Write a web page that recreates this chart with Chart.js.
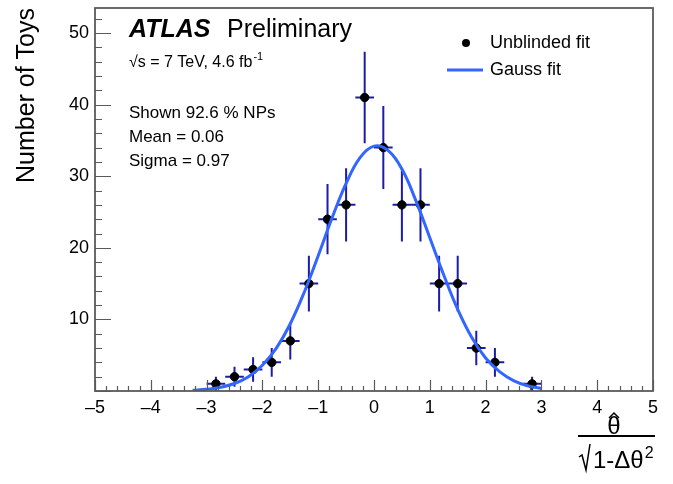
<!DOCTYPE html>
<html>
<head>
<meta charset="utf-8">
<script src="https://cdn.jsdelivr.net/npm/chart.js@4.4.1/dist/chart.umd.min.js"></script>
<style>
  body { margin: 0; background: #fff; }
</style>
</head>
<body>
<canvas id="myChart" width="673" height="484"></canvas>
<script>
// toy results, one bin = 1/3 wide
var binCenters = [-2.833, -2.5, -2.167, -1.833, -1.5, -1.167, -0.833, -0.5, -0.167, 0.167, 0.5, 0.833, 1.167, 1.5, 1.833, 2.167, 2.833];
var toyCounts = [1, 2, 3, 4, 7, 15, 24, 26, 41, 34, 26, 26, 15, 15, 6, 4, 1];
var countErrors = [1, 1.4, 1.7, 2, 2.6, 3.9, 4.9, 5.1, 6.4, 5.8, 5.1, 5.1, 3.9, 3.9, 2.4, 2, 1];
var binHalfWidth = 0.167;

// gauss fit curve
var fitX = [-3.25, -3, -2.75, -2.5, -2.25, -2, -1.75, -1.5, -1.25, -1, -0.75, -0.5, -0.25, 0, 0.25, 0.5, 0.75, 1, 1.25, 1.5, 1.75, 2, 2.25, 2.5, 2.75, 3];
var fitY = [0.1, 0.24, 0.52, 1.05, 2.0, 3.6, 6.0, 9.4, 13.8, 18.9, 24.2, 29.0, 32.6, 34.2, 33.6, 31.0, 26.6, 21.4, 16.2, 11.4, 7.5, 4.6, 2.7, 1.45, 0.73, 0.35];

var xTickLabels = [-5, -4, -3, -2, -1, 0, 1, 2, 3, 4, 5];
var yTickLabels = [10, 20, 30, 40, 50];

var FONT = '"Liberation Sans", Arial, Helvetica, sans-serif';
var errColor = '#1c1ca8';
var fitColor = '#3366ff';
var frameColor = '#5a5a5a';

var points = [];
for (var i = 0; i < binCenters.length; i++) {
  points.push({x: binCenters[i], y: toyCounts[i]});
}
var curve = [];
for (var i = 0; i < fitX.length; i++) {
  curve.push({x: fitX[i], y: fitY[i]});
}

var atlasPlugin = {
  id: 'atlasExtras',
  beforeDatasetsDraw: function(chart) {
    var ctx = chart.ctx;
    var xs = chart.scales.x, ys = chart.scales.y;
    ctx.save();
    ctx.strokeStyle = errColor;
    ctx.lineWidth = 2;
    for (var i = 0; i < binCenters.length; i++) {
      var px = xs.getPixelForValue(binCenters[i]);
      var py = ys.getPixelForValue(toyCounts[i]);
      ctx.beginPath();
      ctx.moveTo(px, ys.getPixelForValue(toyCounts[i] - countErrors[i]));
      ctx.lineTo(px, ys.getPixelForValue(toyCounts[i] + countErrors[i]));
      ctx.moveTo(xs.getPixelForValue(binCenters[i] - binHalfWidth), py);
      ctx.lineTo(xs.getPixelForValue(binCenters[i] + binHalfWidth), py);
      ctx.stroke();
    }
    ctx.restore();
  },
  afterDatasetsDraw: function(chart) {
    var ctx = chart.ctx;
    var a = chart.chartArea;
    var xs = chart.scales.x, ys = chart.scales.y;
    ctx.save();

    // frame
    ctx.strokeStyle = frameColor;
    ctx.lineWidth = 1.8;
    ctx.strokeRect(a.left, a.top, a.right - a.left, a.bottom - a.top);

    // inward ticks
    ctx.lineWidth = 1.2;
    ctx.beginPath();
    for (var i = 0; i <= 50; i++) {
      var v = -5 + i * 0.2;
      var px = Math.round(xs.getPixelForValue(v)) + 0.5;
      var len = (i % 5 === 0) ? 11 : 5;
      ctx.moveTo(px, a.bottom);
      ctx.lineTo(px, a.bottom - len);
    }
    for (var j = 0; j <= 26; j++) {
      var yv = j * 2;
      var py = Math.round(ys.getPixelForValue(yv)) + 0.5;
      var ylen = (yv % 10 === 0) ? 16 : 7;
      ctx.moveTo(a.left, py);
      ctx.lineTo(a.left + ylen, py);
    }
    ctx.stroke();

    // ATLAS label and info text
    ctx.fillStyle = '#000';
    ctx.textBaseline = 'middle';
    ctx.textAlign = 'left';
    ctx.font = 'bold italic 25px ' + FONT;
    ctx.fillText('ATLAS', 129, 30);
    ctx.font = '25px ' + FONT;
    ctx.fillText('Preliminary', 227, 30);

    ctx.font = '16px ' + FONT;
    var lumi = '\u221As = 7 TeV, 4.6 fb';
    ctx.fillText(lumi, 129, 63);
    var lw = ctx.measureText(lumi).width;
    ctx.font = '11px ' + FONT;
    ctx.fillText('-1', 129 + lw + 1, 57);

    ctx.font = '17px ' + FONT;
    ctx.fillText('Shown 92.6 % NPs', 129, 113);
    ctx.fillText('Mean = 0.06', 129, 137);
    ctx.fillText('Sigma = 0.97', 129, 161);

    // legend
    ctx.beginPath();
    ctx.arc(466, 43, 4, 0, Math.PI * 2);
    ctx.fill();
    ctx.font = '18px ' + FONT;
    ctx.fillText('Unblinded fit', 490, 43);
    ctx.strokeStyle = fitColor;
    ctx.lineWidth = 3;
    ctx.beginPath();
    ctx.moveTo(447, 70);
    ctx.lineTo(483, 70);
    ctx.stroke();
    ctx.fillText('Gauss fit', 490, 70);

    // x axis title: theta-hat over sqrt(1 - dtheta^2)
    ctx.textAlign = 'center';
    ctx.font = '24px ' + FONT;
    ctx.fillText('\u03B8', 614, 427);
    ctx.strokeStyle = '#000';
    ctx.lineWidth = 1.5;
    ctx.beginPath();
    ctx.moveTo(609, 418);
    ctx.lineTo(614, 413);
    ctx.lineTo(619, 418);
    ctx.stroke();
    ctx.lineWidth = 2.2;
    ctx.beginPath();
    ctx.moveTo(578, 436);
    ctx.lineTo(655, 436);
    ctx.stroke();
    ctx.lineWidth = 1.5;
    ctx.beginPath();
    ctx.moveTo(579, 457);
    ctx.lineTo(582, 455);
    ctx.lineTo(586, 470);
    ctx.lineTo(590, 444);
    ctx.stroke();
    ctx.textAlign = 'left';
    ctx.textBaseline = 'alphabetic';
    ctx.font = '24px ' + FONT;
    var den = '1-\u0394\u03B8';
    ctx.fillText(den, 593, 468);
    var dw = ctx.measureText(den).width;
    ctx.font = '16px ' + FONT;
    ctx.fillText('2', 593 + dw + 1, 458);

    ctx.restore();
  }
};

var ctx = document.getElementById('myChart').getContext('2d');
var myChart = new Chart(ctx, {
  type: 'scatter',
  data: {
    datasets: [{
      label: 'Gauss fit',
      type: 'line',
      data: curve,
      borderColor: fitColor,
      borderWidth: 3,
      pointRadius: 0,
      tension: 0.4,
      fill: false,
      order: 0
    },
    {
      label: 'Unblinded fit',
      data: points,
      backgroundColor: '#000',
      borderColor: '#000',
      pointRadius: 4.2,
      order: 1
    }]
  },
  options: {
    responsive: false,
    animation: false,
    layout: { padding: { top: 8, right: 20, left: 0, bottom: 0 } },
    plugins: {
      legend: { display: false },
      tooltip: { enabled: false }
    },
    scales: {
      x: {
        type: 'linear',
        min: -5,
        max: 5,
        afterFit: function(s) {
          s.height = 93;
          s.paddingLeft = 0;
          s.paddingRight = 0;
        },
        grid: { display: false, drawTicks: false },
        border: { display: false },
        ticks: {
          stepSize: 1,
          padding: 6,
          color: '#000',
          font: { family: FONT, size: 18 },
          maxRotation: 0,
          callback: function(v) {
            if (xTickLabels.indexOf(v) < 0) return '';
            return v < 0 ? '\u2013' + Math.abs(v) : String(v);
          }
        }
      },
      y: {
        min: 0,
        max: 53.5,
        afterFit: function(s) {
          s.width = 95;
          s.paddingTop = 0;
          s.paddingBottom = 0;
        },
        grid: { display: false, drawTicks: false },
        border: { display: false },
        title: {
          display: true,
          text: 'Number of Toys',
          align: 'end',
          color: '#000',
          font: { family: FONT, size: 25 },
          padding: { top: 12, bottom: 0 }
        },
        ticks: {
          stepSize: 10,
          padding: 6,
          color: '#000',
          font: { family: FONT, size: 18 },
          callback: function(v) {
            return yTickLabels.indexOf(v) >= 0 ? String(v) : '';
          }
        }
      }
    }
  },
  plugins: [atlasPlugin]
});
</script>
</body>
</html>
